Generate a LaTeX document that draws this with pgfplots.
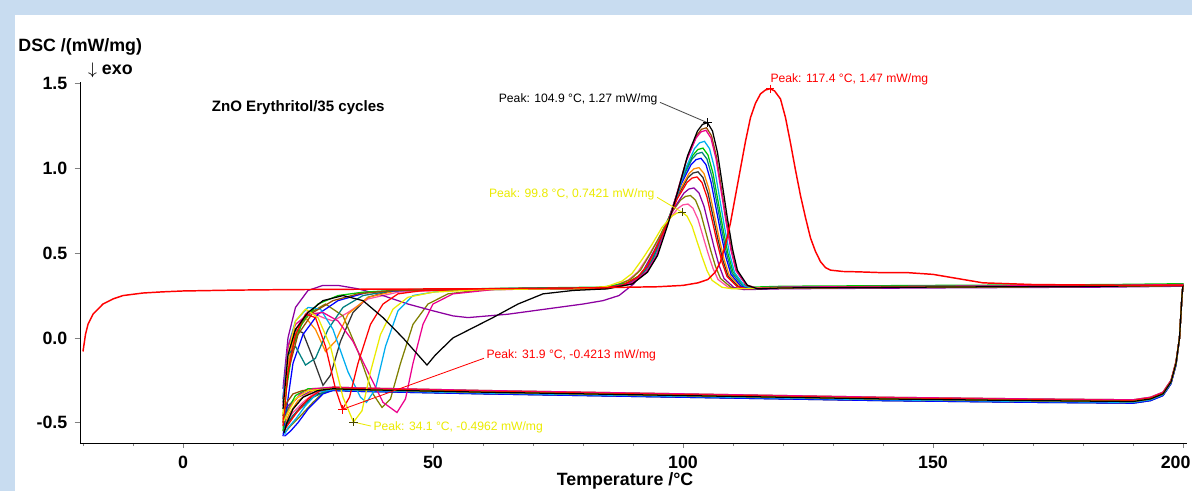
\documentclass[border=0pt]{standalone}
\usepackage{pgfplots}
\pgfplotsset{compat=1.18}
\usepackage{fontspec}
\setmainfont{Liberation Sans}
\definecolor{bgblue}{RGB}{200,220,240}
\definecolor{peakyel}{RGB}{235,235,0}
\definecolor{cOlive}{RGB}{128,128,0}
\definecolor{cViolet}{RGB}{140,0,160}
\definecolor{cOrange}{RGB}{255,140,0}
\definecolor{cTeal}{RGB}{0,128,128}
\definecolor{cBrown}{RGB}{150,75,0}
\definecolor{cPink}{RGB}{255,80,160}
\definecolor{cGreen}{RGB}{0,200,0}
\tikzset{
  cyc/.style={line width=0.6pt, #1},
  peaklbl/.style={font=\fontsize{5.8}{7}\selectfont, inner sep=1pt}
}

\begin{document}
\begin{tikzpicture}
% frame and white plotting area
\fill[bgblue] (-1.342,-0.805) rectangle (18.658,7.433);
\fill[white] (-1.091,-0.805) rectangle (18.658,7.181);

\begin{axis}[
  scale only axis,
  width=18.574cm, height=6.057cm,
  xmin=-20.6, xmax=200.8,
  ymin=-0.62, ymax=1.51,
  axis lines*=left,
  clip=false,
  tick align=outside,
  major tick length=2.5pt, minor tick length=1.5pt,
  xtick={0,50,100,150,200},
  xticklabels={0,50,100,150,\hspace*{-7pt}200},
  minor xtick={-20,-10,10,20,30,40,60,70,80,90,110,120,130,140,160,170,180,190},
  ytick={-0.5,0,0.5,1,1.5},
  tick label style={font=\fontsize{8.5}{10}\selectfont\bfseries},
  /pgf/number format/assume math mode=true,
  yticklabel style={/pgf/number format/.cd, fixed, fixed zerofill, precision=1},
  xlabel={Temperature /°C},
  xlabel style={font=\fontsize{8.5}{10}\selectfont\bfseries, yshift=5pt, xshift=-4pt},
]
% cycle 11
\addplot[cyc=black!80] coordinates {(20,-0.36) (21,-0.05) (22.5,0.05) (24,0.03) (26,-0.12) (28,-0.28) (29.5,-0.22) (31.5,-0.02) (34,0.15) (37,0.24) (42,0.28) (70,0.29)
 (83,0.29) (88,0.311) (91,0.359) (93,0.428) (95,0.552) (97,0.69) (99,0.842) (101,0.946) (102,0.973) (103,0.98) (104,0.946) (105,0.856) (106,0.718) (107,0.58) (108,0.456) (109,0.366) (111,0.304) (113,0.29)
 (120,0.295) (150,0.30) (185,0.305) (200,0.31)
 (199.8,0.25) (199.3,0.0) (198.6,-0.16) (197.6,-0.27) (196,-0.34) (193.5,-0.37) (190,-0.385) (170,-0.38) (140,-0.37) (100,-0.35) (60,-0.33) (35,-0.315) (30,-0.31) (27,-0.33) (24,-0.39) (22,-0.46) (20.5,-0.52)};
% cycle 13
\addplot[cyc=cPink] coordinates {(20,-0.5) (21,-0.2) (22.5,0.05) (25,0.16) (28,0.12) (30,0.1) (33,0.15) (37,0.23) (43,0.27) (60,0.29)
 (81,0.29) (86,0.305) (89,0.34) (91,0.39) (93,0.48) (95,0.58) (97,0.69) (99,0.765) (100,0.785) (101,0.79) (102,0.765) (103,0.70) (104,0.60) (105,0.50) (106,0.41) (107,0.345) (109,0.30) (111,0.29)
 (120,0.295) (150,0.30) (185,0.305) (200,0.31)
 (199.8,0.25) (199.3,0.0) (198.6,-0.155) (197.6,-0.265) (196,-0.335) (193.5,-0.365) (190,-0.38) (170,-0.375) (140,-0.365) (100,-0.345) (60,-0.325) (35,-0.31) (30,-0.305) (26.5,-0.32) (24,-0.38) (22,-0.44) (20.3,-0.51)};
% cycle 9
\addplot[cyc=cOlive] coordinates {(20,-0.5) (21,-0.15) (23,0.05) (25.5,0.15) (28.5,0.2) (32,0.13) (35,-0.08) (38,-0.33) (39.8,-0.41) (41.5,-0.36) (43.5,-0.15) (46,0.08) (49,0.2) (53,0.26) (60,0.285) (75,0.29)
 (81.5,0.29) (86.5,0.307) (89.5,0.345) (91.5,0.40) (93.5,0.499) (95.5,0.609) (97.5,0.73) (99.5,0.813) (100.5,0.835) (101.5,0.84) (102.5,0.813) (103.5,0.741) (104.5,0.631) (105.5,0.521) (106.5,0.422) (107.5,0.351) (109.5,0.301) (111.5,0.29)
 (120,0.295) (150,0.30) (185,0.305) (200,0.31)
 (199.8,0.25) (199.3,0.0) (198.6,-0.14) (197.6,-0.25) (196,-0.32) (193.5,-0.35) (190,-0.365) (170,-0.36) (140,-0.35) (100,-0.33) (60,-0.31) (35,-0.295) (30,-0.29) (28.5,-0.31) (26,-0.38) (23.5,-0.46) (21.5,-0.52) (20.3,-0.56)};
% cycle 8
\addplot[cyc=cViolet] coordinates {(20,-0.3) (21,0.0) (22.5,0.18) (25,0.28) (28,0.31) (31,0.31) (35,0.29) (40,0.25) (45,0.2) (50,0.16) (54,0.13) (57,0.12) (61,0.13) (65,0.14) (70,0.16) (75,0.18) (80,0.2) (84,0.22) (87.2,0.25) (90.2,0.32)
 (92.2,0.405) (94.2,0.513) (96.2,0.633) (98.2,0.765) (100.2,0.855) (101.2,0.879) (102.2,0.885) (103.2,0.855) (104.2,0.777) (105.2,0.657) (106.2,0.537) (107.2,0.429) (108.2,0.351) (110.2,0.297) (112.2,0.285)
 (120,0.29) (150,0.295) (185,0.30) (200,0.305)
 (199.8,0.25) (199.3,0.0) (198.6,-0.155) (197.6,-0.265) (196,-0.335) (193.5,-0.365) (190,-0.38) (170,-0.375) (140,-0.365) (100,-0.345) (60,-0.325) (35,-0.31) (30,-0.305) (26,-0.31) (23,-0.35) (21,-0.40) (20.2,-0.46)};
% cycle 6
\addplot[cyc=cOrange] coordinates {(20,-0.48) (21,-0.15) (22.5,0.05) (24.5,0.12) (26.5,0.05) (28.5,-0.08) (30.5,-0.02) (33,0.14) (37,0.24) (43,0.28) (70,0.29)
 (83.2,0.295) (88.2,0.316) (91.2,0.366) (93.2,0.437) (95.2,0.565) (97.2,0.707) (99.2,0.863) (101.2,0.970) (102.2,0.998) (103.2,1.005) (104.2,0.970) (105.2,0.877) (106.2,0.735) (107.2,0.593) (108.2,0.465) (109.2,0.373) (111.2,0.309) (113.2,0.295)
 (120,0.30) (150,0.305) (185,0.31) (200,0.315)
 (199.8,0.25) (199.3,0.0) (198.6,-0.15) (197.6,-0.26) (196,-0.33) (193.5,-0.36) (190,-0.375) (170,-0.37) (140,-0.36) (100,-0.34) (60,-0.32) (35,-0.305) (30,-0.30) (26,-0.31) (23,-0.37) (21.2,-0.45) (20.2,-0.52)};
% cycle 5
\addplot[cyc=blue] coordinates {(20,-0.58) (20.8,-0.4) (22,-0.15) (24,0.02) (27,0.14) (31,0.22) (37,0.27) (45,0.28) (70,0.29)
 (83.6,0.29) (88.6,0.313) (91.6,0.367) (93.6,0.444) (95.6,0.583) (97.6,0.737) (99.6,0.906) (101.6,1.022) (102.6,1.052) (103.6,1.06) (104.6,1.022) (105.6,0.921) (106.6,0.767) (107.6,0.613) (108.6,0.475) (109.6,0.375) (111.6,0.305) (113.6,0.29)
 (120,0.295) (150,0.30) (185,0.305) (200,0.31)
 (199.8,0.25) (199.3,0.0) (198.6,-0.16) (197.6,-0.27) (196,-0.34) (193.5,-0.37) (190,-0.385) (170,-0.38) (140,-0.37) (100,-0.35) (60,-0.33) (35,-0.315) (30,-0.31) (28,-0.33) (25,-0.42) (23,-0.50) (21.5,-0.55) (20.3,-0.58)};
% cycle 4
\addplot[cyc=cGreen] coordinates {(20,-0.55) (20.7,-0.3) (22,-0.05) (24,0.1) (27,0.2) (31,0.25) (36,0.27) (45,0.285) (70,0.295)
 (84,0.30) (89,0.325) (92,0.382) (94,0.464) (96,0.612) (98,0.776) (100,0.956) (102,1.079) (103,1.112) (104,1.12) (105,1.079) (106,0.972) (107,0.808) (108,0.644) (109,0.497) (110,0.390) (112,0.316) (114,0.30)
 (120,0.305) (150,0.31) (185,0.315) (200,0.32)
 (199.8,0.25) (199.3,0.0) (198.6,-0.145) (197.6,-0.255) (196,-0.325) (193.5,-0.355) (190,-0.37) (170,-0.365) (140,-0.355) (100,-0.335) (60,-0.315) (35,-0.30) (30,-0.295) (25,-0.30) (22.5,-0.34) (21,-0.42) (20.2,-0.5)};
% cycle 12
\addplot[cyc=cTeal] coordinates {(20,-0.38) (21,-0.1) (22.5,-0.05) (24.5,-0.16) (26.5,-0.12) (29,0.05) (32,0.18) (36,0.25) (42,0.28) (70,0.295)
 (83.8,0.295) (88.8,0.319) (91.8,0.375) (93.8,0.455) (95.8,0.599) (97.8,0.759) (99.8,0.935) (101.8,1.055) (102.8,1.087) (103.8,1.095) (104.8,1.055) (105.8,0.951) (106.8,0.791) (107.8,0.631) (108.8,0.487) (109.8,0.383) (111.8,0.311) (113.8,0.295)
 (120,0.30) (150,0.305) (185,0.31) (200,0.315)
 (199.8,0.25) (199.3,0.0) (198.6,-0.145) (197.6,-0.255) (196,-0.325) (193.5,-0.355) (190,-0.37) (170,-0.365) (140,-0.355) (100,-0.335) (60,-0.315) (35,-0.30) (30,-0.295) (29,-0.31) (26,-0.35) (23,-0.43) (21,-0.49) (20.2,-0.53)};
% cycle 3
\addplot[cyc=cyan] coordinates {(20,-0.35) (21,-0.05) (22.5,0.1) (25,0.18) (27.5,0.17) (30,0.05) (33,-0.2) (35.5,-0.35) (36.7,-0.38) (38.5,-0.3) (40.5,-0.05) (43,0.16) (46,0.25) (52,0.28) (70,0.29)
 (84.3,0.29) (89.3,0.316) (92.3,0.377) (94.3,0.464) (96.3,0.621) (98.3,0.795) (100.3,0.986) (102.3,1.117) (103.3,1.151) (104.3,1.16) (105.3,1.117) (106.3,1.003) (107.3,0.829) (108.3,0.655) (109.3,0.499) (110.3,0.386) (112.3,0.307) (114.3,0.29)
 (120,0.295) (150,0.30) (185,0.305) (200,0.31)
 (199.8,0.25) (199.3,0.0) (198.6,-0.155) (197.6,-0.265) (196,-0.335) (193.5,-0.365) (190,-0.38) (170,-0.375) (140,-0.365) (100,-0.345) (60,-0.325) (35,-0.31) (30,-0.305) (27,-0.32) (24.5,-0.40) (22.5,-0.48) (21,-0.53) (20.3,-0.57)};
% cycle 14
\addplot[cyc=cBrown] coordinates {(20,-0.46) (21,-0.2) (23,0.02) (26,0.15) (30,0.22) (35,0.26) (42,0.28) (70,0.29)
 (84.7,0.29) (89.7,0.319) (92.7,0.385) (94.7,0.48) (96.7,0.651) (98.7,0.841) (100.7,1.05) (102.7,1.193) (103.7,1.231) (104.7,1.24) (105.7,1.193) (106.7,1.069) (107.7,0.879) (108.7,0.689) (109.7,0.518) (110.7,0.395) (112.7,0.309) (114.7,0.29)
 (120,0.295) (150,0.30) (185,0.305) (200,0.31)
 (199.8,0.25) (199.3,0.0) (198.6,-0.15) (197.6,-0.26) (196,-0.33) (193.5,-0.36) (190,-0.375) (170,-0.37) (140,-0.36) (100,-0.34) (60,-0.32) (35,-0.305) (30,-0.30) (24,-0.31) (22,-0.33) (20.8,-0.38) (20.2,-0.44)};
% cycle 2
\addplot[cyc=magenta] coordinates {(20,-0.40) (21,-0.05) (22.5,0.08) (25,0.14) (28,0.15) (31,0.1) (34,-0.02) (37,-0.2) (40,-0.38) (42.8,-0.44) (44.5,-0.36) (46,-0.15) (48,0.08) (50,0.2) (54,0.26) (62,0.285) (75,0.29)
 (84.6,0.295) (89.6,0.323) (92.6,0.388) (94.6,0.481) (96.6,0.648) (98.6,0.834) (100.6,1.039) (102.6,1.179) (103.6,1.216) (104.6,1.225) (105.6,1.179) (106.6,1.058) (107.6,0.872) (108.6,0.686) (109.6,0.518) (110.6,0.397) (112.6,0.314) (114.6,0.295)
 (120,0.30) (150,0.305) (185,0.31) (200,0.315)
 (199.8,0.25) (199.3,0.0) (198.6,-0.14) (197.6,-0.25) (196,-0.32) (193.5,-0.35) (190,-0.365) (170,-0.36) (140,-0.35) (100,-0.33) (60,-0.31) (35,-0.295) (30,-0.29) (26,-0.30) (23.5,-0.33) (21.5,-0.40) (20.3,-0.48)};
% cycle 7
\addplot[cyc=red] coordinates {(20,-0.52) (21,-0.2) (22.5,0.02) (24.5,0.14) (26.5,0.12) (28.5,-0.05) (30.5,-0.3) (31.9,-0.4213) (33.3,-0.35) (35,-0.15) (37.5,0.08) (40,0.2) (43,0.26) (48,0.28) (70,0.29)
 (82.8,0.29) (87.8,0.310) (90.8,0.356) (92.8,0.422) (94.8,0.541) (96.8,0.673) (98.8,0.818) (100.8,0.917) (101.8,0.943) (102.8,0.95) (103.8,0.917) (104.8,0.831) (105.8,0.699) (106.8,0.567) (107.8,0.448) (108.8,0.363) (110.8,0.303) (112.8,0.29)
 (120,0.295) (150,0.30) (185,0.305) (200,0.31)
 (199.8,0.25) (199.3,0.0) (198.6,-0.145) (197.6,-0.255) (196,-0.325) (193.5,-0.355) (190,-0.37) (170,-0.365) (140,-0.355) (100,-0.335) (60,-0.315) (35,-0.30) (30,-0.295) (27.5,-0.31) (25,-0.36) (22.5,-0.45) (20.8,-0.52) (20.2,-0.55)};
% cycle 10
\addplot[cyc=peakyel] coordinates {(20,-0.45) (21,-0.1) (22.5,0.1) (24.5,0.17) (27,0.12) (29.5,-0.05) (32,-0.35) (34.1,-0.4962) (35.8,-0.43) (37.5,-0.2) (39.5,0.02) (42,0.17) (45,0.24) (50,0.27) (60,0.285) (75,0.29)
 (79.8,0.29) (84.8,0.304) (87.8,0.335) (89.8,0.38) (91.8,0.462) (93.8,0.552) (95.8,0.652) (97.8,0.719) (98.8,0.737) (99.8,0.7421) (100.8,0.719) (101.8,0.661) (102.8,0.570) (103.8,0.480) (104.8,0.398) (105.8,0.340) (107.8,0.299) (109.8,0.29)
 (120,0.295) (150,0.30) (185,0.305) (200,0.31)
 (199.8,0.25) (199.3,0.0) (198.6,-0.15) (197.6,-0.26) (196,-0.33) (193.5,-0.36) (190,-0.375) (170,-0.37) (140,-0.36) (100,-0.34) (60,-0.32) (35,-0.305) (30,-0.30) (25,-0.31) (22.5,-0.36) (21,-0.44) (20.2,-0.49)};
% cycle 1
\addplot[cyc=black] coordinates {(20,-0.42) (21,-0.1) (22.5,0.05) (25,0.15) (28,0.22) (32,0.25) (36,0.22) (40,0.12) (44,0.0) (47,-0.1) (48.8,-0.16) (50.5,-0.1) (54,0.0) (58,0.06) (62,0.12) (67,0.2) (72,0.26) (78,0.28)
 (84.9,0.29) (89.9,0.319) (92.9,0.388) (94.9,0.486) (96.9,0.662) (98.9,0.858) (100.9,1.074) (102.9,1.221) (103.9,1.260) (104.9,1.27) (105.9,1.221) (106.9,1.094) (107.9,0.898) (108.9,0.702) (109.9,0.525) (110.9,0.398) (112.9,0.310) (114.9,0.29)
 (120,0.295) (150,0.30) (185,0.305) (200,0.31)
 (199.8,0.25) (199.3,0.0) (198.6,-0.15) (197.6,-0.26) (196,-0.33) (193.5,-0.36) (190,-0.375) (170,-0.37) (140,-0.36) (100,-0.34) (60,-0.32) (35,-0.305) (30,-0.30) (27,-0.31) (24,-0.35) (22,-0.42) (20.8,-0.5) (20.2,-0.56)};
% first heating
\addplot[line width=0.7pt, red] coordinates {(-20,-0.08) (-19.5,0.02) (-19,0.08) (-18,0.14) (-16,0.2) (-14,0.23) (-12,0.25) (-8,0.265) (-4,0.272) (0,0.277) (10,0.282) (20,0.285) (40,0.288) (60,0.29) (80,0.295) (95,0.302) (100,0.31) (103,0.325) (105,0.345) (106.5,0.39) (107.5,0.45) (108.5,0.55) (109.5,0.68) (110.5,0.84) (111.5,1.0) (112.5,1.16) (113.5,1.3) (114.5,1.385) (115.5,1.44) (116.5,1.463) (117.4,1.47) (118.3,1.458) (119.5,1.41) (120.5,1.3) (121.5,1.15) (122.5,0.99) (123.5,0.84) (124.5,0.71) (125.5,0.59) (126.5,0.51) (127.5,0.45) (128.5,0.415) (129.5,0.40) (132,0.392) (135,0.39) (140,0.385) (145,0.385) (150,0.375) (155,0.35) (160,0.325) (170,0.315) (190,0.31) (200,0.31)};

% peak markers
\addplot[only marks, mark=+, mark size=2pt, red] coordinates {(117.4,1.47) (31.9,-0.4213)};
\addplot[only marks, mark=+, mark size=2pt, black] coordinates {(104.9,1.27)};
\addplot[only marks, mark=+, mark size=2pt, black!70!peakyel] coordinates {(99.8,0.7421) (34.1,-0.4962)};

% peak labels
\draw[black!70, line width=0.4pt] (axis cs:95.4,1.39) -- (axis cs:104.9,1.27);
\node[peaklbl, anchor=east, text=black] at (axis cs:95.4,1.405) {Peak: 104.9 °C, 1.27 mW/mg};
\node[peaklbl, anchor=south west, text=red] at (axis cs:117.0,1.48) {Peak: 117.4 °C, 1.47 mW/mg};
\draw[peakyel, line width=0.4pt] (axis cs:94.8,0.83) -- (axis cs:99.8,0.7421);
\node[peaklbl, anchor=east, text=peakyel] at (axis cs:94.8,0.845) {Peak: 99.8 °C, 0.7421 mW/mg};
\draw[red, line width=0.4pt] (axis cs:31.9,-0.4213) -- (axis cs:60.2,-0.12);
\node[peaklbl, anchor=west, text=red] at (axis cs:60.2,-0.105) {Peak: 31.9 °C, -0.4213 mW/mg};
\draw[peakyel, line width=0.4pt] (axis cs:34.1,-0.4962) -- (axis cs:37.6,-0.52);
\node[peaklbl, anchor=west, text=peakyel] at (axis cs:37.6,-0.53) {Peak: 34.1 °C, -0.4962 mW/mg};

\node[anchor=west, font=\fontsize{7.2}{9}\selectfont\bfseries] at (axis cs:4.3,1.36) {ZnO Erythritol/35 cycles};
\end{axis}

\node[anchor=west, font=\fontsize{8.5}{10}\selectfont\bfseries, inner sep=0pt] at (-1.04,6.644) {DSC /(mW/mg)};
\node[anchor=west, font=\fontsize{8.5}{10}\selectfont\bfseries, inner sep=0pt] at (0.13,6.259) {$\downarrow$ exo};

\pgfresetboundingbox
\path (-1.342,-0.805) rectangle (18.658,7.433);
\end{tikzpicture}
\end{document}
